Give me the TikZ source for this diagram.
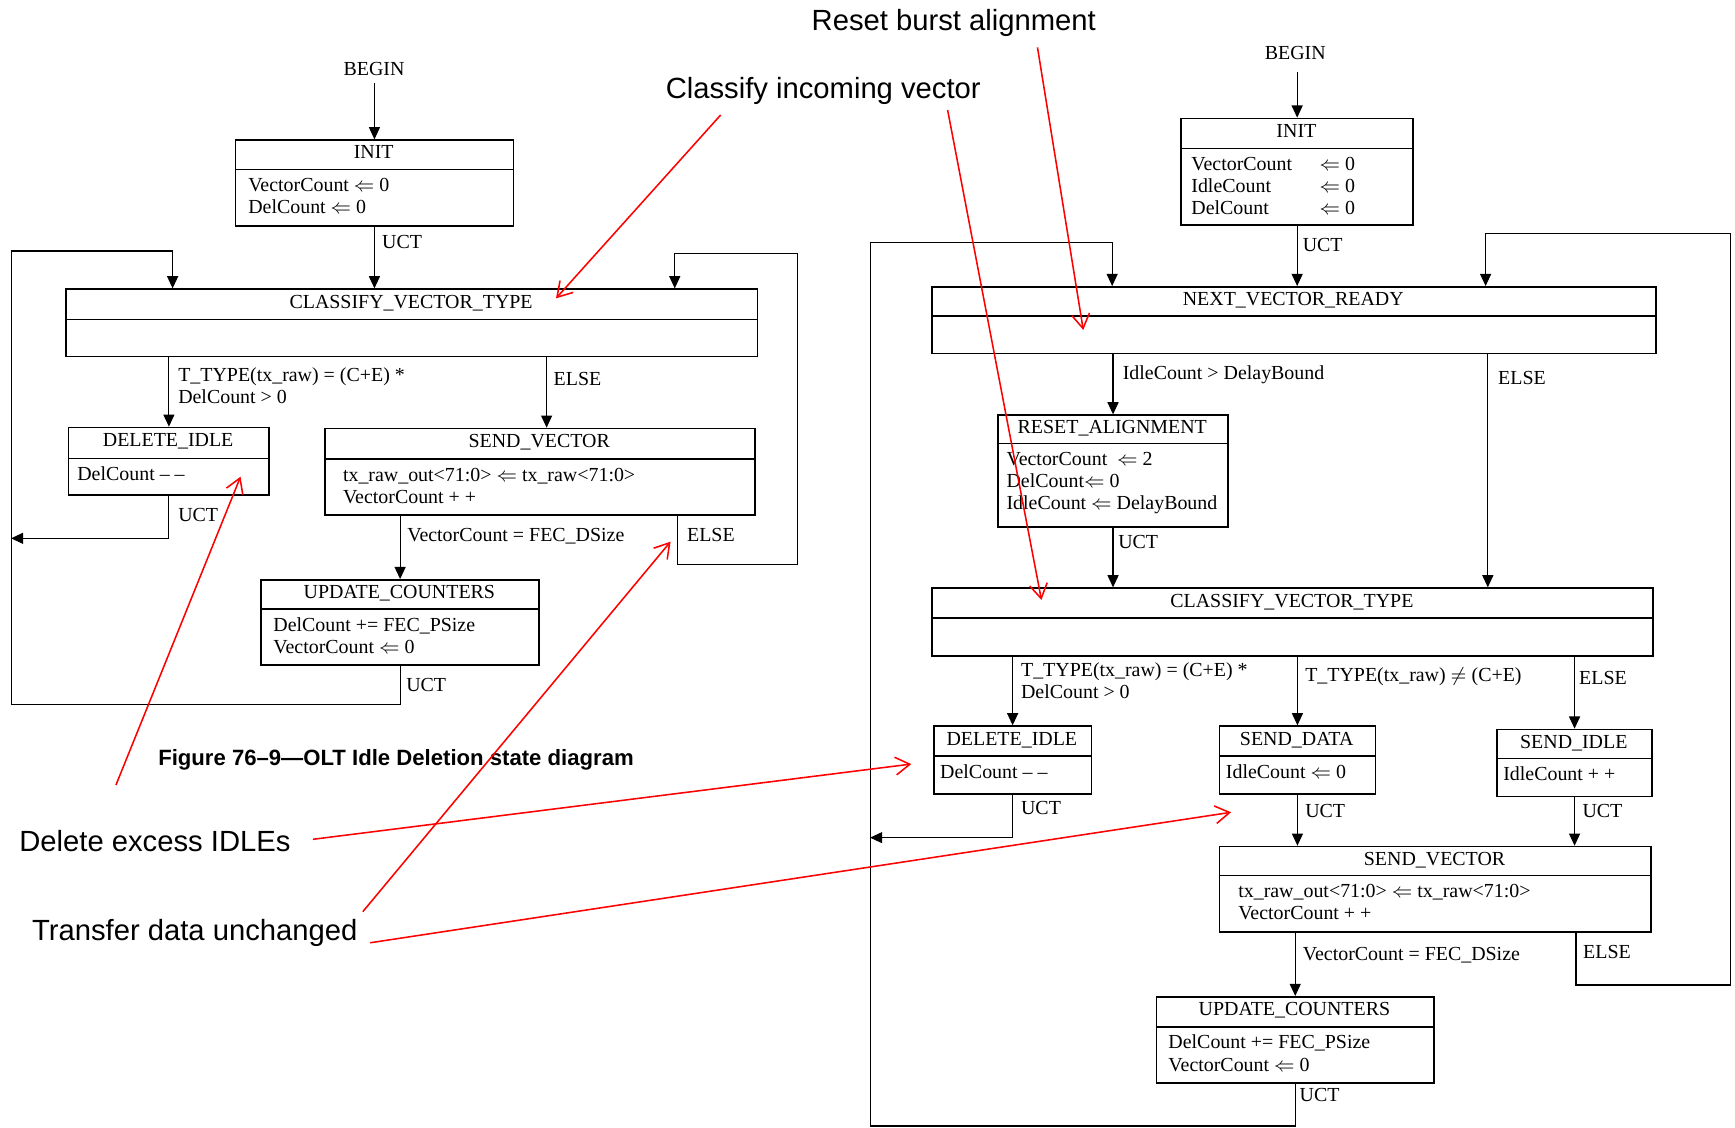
\documentclass[tikz,border=0pt]{standalone}
\usepackage{fontspec}
\setmainfont{Liberation Serif}
\newfontfamily\annfont{Liberation Sans}
\usetikzlibrary{arrows.meta}
\newcommand{\mylines}[1]{\begin{tabular}[t]{@{}l@{}}#1\end{tabular}}
\tikzset{
 box/.style={draw, line width=0.7pt, inner sep=0pt, anchor=north west},
 divline/.style={line width=0.7pt},
 ttl/.style={font=\fontsize{9}{10}\selectfont, anchor=base, inner sep=0pt},
 bodytxt/.style={font=\fontsize{9}{10}\selectfont, anchor=base west, inner sep=0pt},
 lbl/.style={font=\fontsize{9}{10}\selectfont, anchor=base west, inner sep=0pt},
 begintxt/.style={font=\fontsize{9}{10}\selectfont, inner sep=0pt},
 arr/.style={line width=0.5pt, -{Triangle[length=5.5pt,width=5pt]}},
 note/.style={font=\annfont\fontsize{13.2}{15}\selectfont, inner sep=0pt},
 captxt/.style={font=\annfont\bfseries\fontsize{10}{12}\selectfont, inner sep=0pt},
 redarr/.style={red, line width=0.7pt, -{Straight Barb[length=6.5pt,width=8pt]}},
}
\newcommand{\stbox}[9]{%
 \pgfmathsetmacro{\bw}{(#4-#2)*0.5}%
 \pgfmathsetmacro{\bh}{(#6-#3)*0.5}%
 \node[box, minimum width=\bw pt, minimum height=\bh pt] (#1) at (#2,#3) {};
 \draw[divline] (#2,#5) -- (#4,#5);
 \node[ttl] (#1-t) at ({(#2+#4)/2},{(#3+#5)/2+4}) {#8};
 \node[bodytxt] (#1-b) at ({#2+#7},{#5+20}) {\mylines{#9}};
}
\begin{document}
\begin{tikzpicture}[x=0.5pt,y=-0.5pt]
\useasboundingbox (0,0) rectangle (1568,1019);

% ---------------- left diagram ----------------
\node[begintxt] (lbegin) at (338,62) {BEGIN};
\stbox{linit}{212.2}{125.9}{463.2}{153}{203.6}{11.8}{INIT}{VectorCount $\Leftarrow$ 0\\DelCount $\Leftarrow$ 0}
\stbox{lcvt}{59.1}{260.6}{684}{288.6}{321.4}{0}{CLASSIFY\_VECTOR\_TYPE}{}
\stbox{ldi}{61.4}{385.6}{242.5}{414.2}{446.8}{8.1}{DELETE\_IDLE}{DelCount – –}
\stbox{lsv}{293}{386.5}{681.6}{414.8}{464.5}{16.6}{SEND\_VECTOR}{tx\_raw\_out<71:0> $\Leftarrow$ tx\_raw<71:0>\\VectorCount + +}
\stbox{luc}{235.4}{523.3}{486.4}{550.4}{600.4}{11.3}{UPDATE\_COUNTERS}{DelCount += FEC\_PSize\\VectorCount $\Leftarrow$ 0}

\draw[arr] ([yshift=-3.5pt]linit.north |- lbegin.south) -- (linit.north);
\draw[arr] (linit.south) -- (linit.south |- lcvt.north);
\node[lbl] (lu1) at (345,225) {UCT};
\draw[arr] (ldi.north |- lcvt.south) -- (ldi.north);
\node[lbl] (lc1) at (160.7,345) {\mylines{T\_TYPE(tx\_raw) = (C+E) *\\DelCount > 0}};
\draw[arr] (494,0 |- lcvt.south) -- (494,0 |- lsv.north);
\node[lbl] (le1) at (500,348.8) {ELSE};
\coordinate (ljoin) at (10,486.5);
\draw[arr] (ldi.south) |- (ljoin);
\node[lbl] (lu2) at (160.7,471.4) {UCT};
\draw[arr] (luc.north |- lsv.south) -- (luc.north);
\node[lbl] (lvc) at (367.7,489.5) {VectorCount = FEC\_DSize};
\draw[arr] (612.1,0 |- lsv.south) -- (612.1,510) -- (720.8,510) -- (720.8,229) -- (609.8,229) -- (609.8,0 |- lcvt.north);
\node[lbl] (le2) at (620.6,489.5) {ELSE};
\draw[arr] (luc.south) -- (luc.south |- 0,636.5) -- (10,636.5) -- (10,226.8) -- (156,226.8) -- (156,0 |- lcvt.north);
\node[lbl] (lu3) at (366.8,625) {UCT};

% ---------------- right diagram ----------------
\node[begintxt] (rbegin) at (1170.6,47.6) {BEGIN};
\stbox{rinit}{1066.7}{106.3}{1276.5}{134}{202.7}{9.6}{INIT}{\makebox[58pt][l]{VectorCount}$\Leftarrow$ 0\\\makebox[58pt][l]{IdleCount}$\Leftarrow$ 0\\\makebox[58pt][l]{DelCount}$\Leftarrow$ 0}
\stbox{rnvr}{841.7}{258.5}{1495.9}{285.6}{318.7}{0}{NEXT\_VECTOR\_READY}{}
\stbox{rra}{901.3}{374.5}{1109.1}{400.7}{475.4}{8}{RESET\_ALIGNMENT}{VectorCount \ $\Leftarrow$ 2\\DelCount$\Leftarrow$ 0\\IdleCount $\Leftarrow$ DelayBound}
\stbox{rcvt}{841.7}{530.8}{1493.4}{558.5}{592}{0}{CLASSIFY\_VECTOR\_TYPE}{}
\stbox{rdi}{843.3}{655.5}{985.6}{683.2}{717}{6}{DELETE\_IDLE}{DelCount – –}
\stbox{rsd}{1101.5}{655.5}{1242.2}{683.2}{717}{6}{SEND\_DATA}{IdleCount $\Leftarrow$ 0}
\stbox{rsi}{1352.2}{658.5}{1492.4}{685.6}{719.1}{6}{SEND\_IDLE}{IdleCount + +}
\stbox{rsv}{1101.5}{764.3}{1491.4}{791.4}{841.4}{17.2}{SEND\_VECTOR}{tx\_raw\_out<71:0> $\Leftarrow$ tx\_raw<71:0>\\VectorCount + +}
\stbox{ruc}{1044.5}{900.1}{1295.2}{927.9}{978.1}{11.1}{UPDATE\_COUNTERS}{DelCount += FEC\_PSize\\VectorCount $\Leftarrow$ 0}

\draw[arr] ([yshift=-5.5pt]rinit.north |- rbegin.south) -- (rinit.north);
\draw[arr] (rinit.south) -- (rinit.south |- rnvr.north);
\node[lbl] (ru1) at (1177,227.4) {UCT};
\draw[arr] (rra.north |- rnvr.south) -- (rra.north);
\node[lbl] (ric) at (1014.3,343.4) {IdleCount > DelayBound};
\draw[arr] (1344.6,0 |- rnvr.south) -- (1344.6,0 |- rcvt.north);
\node[lbl] (re1) at (1353.6,347.9) {ELSE};
\draw[arr] (rra.south) -- (rra.south |- rcvt.north);
\node[lbl] (ru2) at (1010.2,496.1) {UCT};
\draw[arr] (rdi.north |- rcvt.south) -- (rdi.north);
\node[lbl] (rtt1) at (922.4,611.5) {\mylines{T\_TYPE(tx\_raw) = (C+E) *\\DelCount > 0}};
\draw[arr] (rsd.north |- rcvt.south) -- (rsd.north);
\node[lbl] (rtt2) at (1179.2,616) {T\_TYPE(tx\_raw) $\neq$ (C+E)};
\draw[arr] (rsi.north |- rcvt.south) -- (rsi.north);
\node[lbl] (re2) at (1426.8,618.5) {ELSE};
\coordinate (rjoin) at (786.3,757);
\draw[arr] (rdi.south) |- (rjoin);
\node[lbl] (ru3) at (922.4,736.5) {UCT};
\draw[arr] (rsd.south) -- (rsd.south |- rsv.north);
\node[lbl] (ru4) at (1179.2,739) {UCT};
\draw[arr] (rsi.south) -- (rsi.south |- rsv.north);
\node[lbl] (ru5) at (1429.8,739) {UCT};
\draw[arr] (ruc.north |- rsv.south) -- (ruc.north);
\node[lbl] (rvc) at (1177.1,867.6) {VectorCount = FEC\_DSize};
\draw[arr] (1424.3,0 |- rsv.south) -- (1424.3,890.2) -- (1564,890.2) -- (1564,210.9) -- (1342.6,210.9) -- (1342.6,0 |- rnvr.north);
\node[lbl] (re3) at (1430.4,866.1) {ELSE};
\draw[arr] (ruc.south) -- (ruc.south |- 0,1017.6) -- (786.3,1017.6) -- (786.3,219.3) -- (1005.1,219.3) -- (1005.1,0 |- rnvr.north);
\node[lbl] (ru6) at (1174.2,995.6) {UCT};

% ---------------- caption and annotations ----------------
\node[captxt] (cap) at (357.9,686.3) {Figure 76–9—OLT Idle Deletion state diagram};
\node[note] (nreset) at (862,20.5) {Reset burst alignment};
\node[note] (nclass) at (744,82.5) {Classify incoming vector};
\node[note] (ndel) at (140,760.5) {Delete excess IDLEs};
\node[note] (ntrans) at (176,843.5) {Transfer data unchanged};

\coordinate (a1s) at (651.3,103.9); \coordinate (a1e) at (502.5,269.6);
\coordinate (a2s) at (856.4,99.4);  \coordinate (a2e) at (941.2,542.2);
\coordinate (a3s) at (937.6,42.8);  \coordinate (a3e) at (979,298.2);
\coordinate (a4s) at (104.8,709.4); \coordinate (a4e) at (217.4,430.8);
\coordinate (a5s) at (282.8,758.5); \coordinate (a5e) at (823.6,690.5);
\coordinate (a6s) at (327.9,823.9); \coordinate (a6e) at (606,489.5);
\coordinate (a7s) at (334.6,852);   \coordinate (a7e) at (1112.6,734.1);
\draw[redarr] (a1s) -- (a1e);
\draw[redarr] (a2s) -- (a2e);
\draw[redarr] (a3s) -- (a3e);
\draw[redarr] (a4s) -- (a4e);
\draw[redarr] (a5s) -- (a5e);
\draw[redarr] (a6s) -- (a6e);
\draw[redarr] (a7s) -- (a7e);
\end{tikzpicture}
\end{document}
